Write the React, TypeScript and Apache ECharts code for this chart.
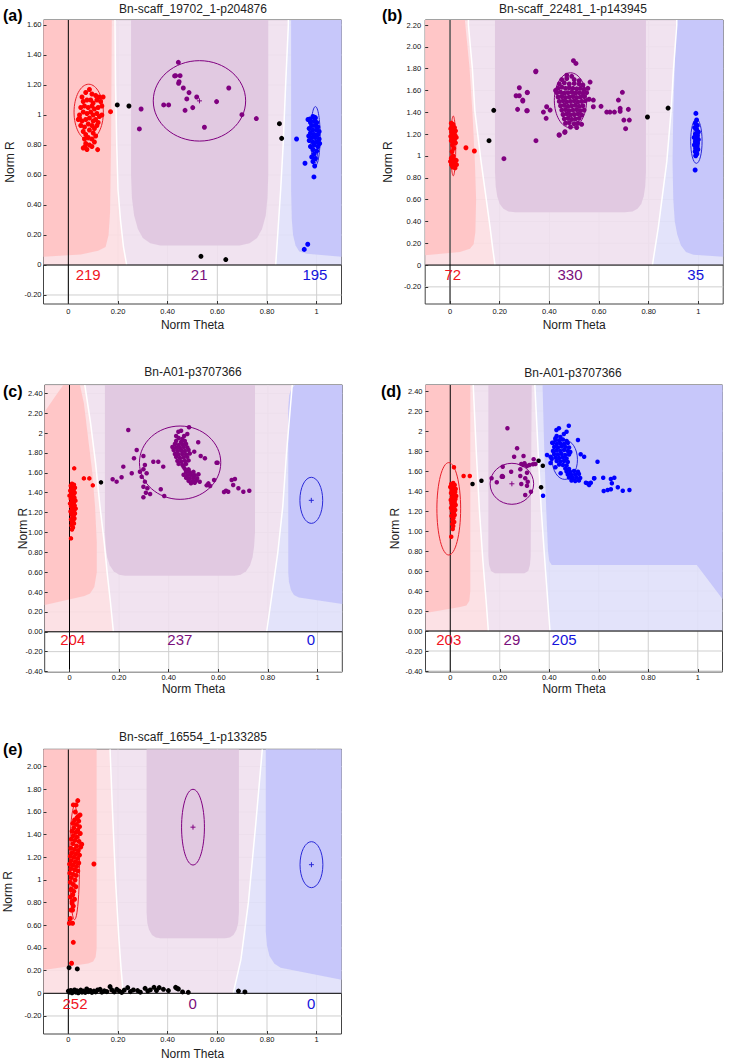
import React, { useEffect, useRef } from "react";
import * as echarts from "echarts";

const FONT = "Liberation Sans, Arial, Helvetica, sans-serif";

// ---------- tick labels ----------
const X_TICKS = [0, 0.2, 0.4, 0.6, 0.8, 1];
const Y_TICKS_A = [-0.2, 0, 0.2, 0.4, 0.6, 0.8, 1, 1.2, 1.4, 1.6];
const Y_TICKS_B = [-0.2, 0, 0.2, 0.4, 0.6, 0.8, 1, 1.2, 1.4, 1.6, 1.8, 2.0, 2.2];
const Y_TICKS_C = [-0.4, -0.2, 0, 0.2, 0.4, 0.6, 0.8, 1, 1.2, 1.4, 1.6, 1.8, 2, 2.2, 2.4];
const Y_TICKS_D = [-0.4, -0.2, 0, 0.2, 0.4, 0.6, 0.8, 1, 1.2, 1.4, 1.6, 1.8, 2, 2.2, 2.4];
const Y_TICKS_E = [-0.2, 0, 0.2, 0.4, 0.6, 0.8, 1, 1.2, 1.4, 1.6, 1.8, 2.0];

const TITLES = [
  "Bn-scaff_19702_1-p204876",
  "Bn-scaff_22481_1-p143945",
  "Bn-A01-p3707366",
  "Bn-A01-p3707366",
  "Bn-scaff_16554_1-p133285",
];
const PANEL_LABELS = ["(a)", "(b)", "(c)", "(d)", "(e)"];

// ---------- genotype counts (AA, AB, BB) and their theta positions ----------
const COUNTS_A = [219, 21, 195];
const COUNTS_B = [72, 330, 35];
const COUNTS_C = [204, 237, 0];
const COUNTS_D = [203, 29, 205];
const COUNTS_E = [252, 0, 0];
const COUNT_THETA_A = [0.08, 0.527, 0.993];
const COUNT_THETA_B = [0.011, 0.483, 0.989];
const COUNT_THETA_C = [0.013, 0.445, 0.973];
const COUNT_THETA_D = [-0.006, 0.249, 0.46];
const COUNT_THETA_E = [0.027, 0.501, 0.978];

// ---------- cluster ellipses [theta, R, halfTheta, halfR, cross, colour] ----------
const ELL_A = [[0.082, 1.019, 0.059, 0.186, 0, 0], [0.528, 1.094, 0.186, 0.268, 1, 1], [0.995, 0.859, 0.019, 0.197, 0, 2], [0.995, 0.83, 0.01, 0.15, 0, 2]];
const ELL_B = [[0.013, 1.092, 0.01, 0.274, 0, 0], [0.485, 1.51, 0.065, 0.252, 0, 1], [0.992, 1.135, 0.023, 0.203, 0, 2], [0.992, 1.135, 0.012, 0.15, 0, 2]];
const ELL_C = [[0.446, 1.702, 0.164, 0.369, 0, 1], [0.975, 1.323, 0.046, 0.232, 1, 2]];
const ELL_D = [[-0.006, 1.222, 0.048, 0.462, 0, 0], [0.249, 1.472, 0.088, 0.205, 1, 1], [0.463, 1.713, 0.051, 0.197, 0, 2]];
const ELL_E = [[0.025, 1.15, 0.02, 0.5, 0, 0], [0.502, 1.466, 0.046, 0.334, 1, 1], [0.979, 1.135, 0.046, 0.203, 1, 2]];

// ---------- samples (Norm Theta, Norm R) ----------
const A_RED = [[0.055,1.12],[0.07,1.15],[0.085,1.17],[0.095,1.14],[0.11,1.13],[0.125,1.12],[0.06,1.09],[0.075,1.1],[0.09,1.1],[0.1,1.08],[0.115,1.1],[0.13,1.09],[0.05,1.05],[0.065,1.06],[0.08,1.05],[0.095,1.06],[0.105,1.04],[0.12,1.05],[0.135,1.06],[0.045,1.0],[0.06,1.02],[0.075,1.01],[0.09,1.02],[0.1,1.0],[0.115,1.01],[0.125,0.99],[0.04,0.97],[0.055,0.96],[0.07,0.97],[0.085,0.98],[0.1,0.96],[0.11,0.97],[0.12,0.95],[0.05,0.93],[0.065,0.92],[0.08,0.94],[0.095,0.93],[0.105,0.91],[0.115,0.93],[0.06,0.89],[0.07,0.87],[0.085,0.9],[0.1,0.88],[0.11,0.86],[0.065,0.84],[0.08,0.85],[0.095,0.84],[0.105,0.82],[0.07,0.81],[0.085,0.8],[0.06,0.78],[0.075,0.77],[0.095,0.79],[0.118,0.769],[0.17,1.022],[0.14,1.12],[0.045,0.98],[0.067,0.789],[0.135,1.0]];
const A_PURPLE = [[0.443,1.351],[0.432,1.262],[0.45,1.262],[0.446,1.222],[0.444,1.211],[0.463,1.18],[0.486,1.149],[0.477,1.107],[0.517,1.12],[0.501,1.049],[0.47,1.031],[0.384,1.067],[0.404,1.067],[0.293,1.04],[0.286,0.907],[0.548,0.918],[0.597,1.089],[0.646,1.18],[0.699,1.002],[0.757,0.976],[0.428,1.26]];
const A_BLUE = [[0.985,0.99],[0.995,0.98],[0.99,0.96],[1.0,0.95],[0.975,0.95],[0.98,0.93],[0.995,0.93],[1.005,0.92],[0.97,0.91],[0.985,0.9],[1.0,0.9],[1.01,0.89],[0.975,0.88],[0.99,0.87],[1.005,0.87],[0.98,0.85],[0.995,0.85],[1.01,0.84],[0.97,0.83],[0.985,0.82],[1.0,0.82],[0.99,0.8],[1.005,0.79],[0.975,0.79],[0.985,0.77],[1.0,0.76],[0.99,0.74],[0.98,0.72],[0.995,0.71],[0.985,0.69],[0.992,0.66],[0.965,0.97],[0.973,0.973],[0.993,0.984],[0.919,0.84],[0.953,0.678],[0.989,0.587],[0.95,0.104],[0.964,0.138],[1.012,0.81],[0.968,0.86]];
const A_BLACK = [[0.197,1.067],[0.244,1.06],[0.85,0.942],[0.859,0.844],[0.534,0.058],[0.634,0.036]];

const B_RED = [[0.005,1.3],[0.012,1.29],[0.008,1.27],[0.018,1.26],[0.003,1.25],[0.012,1.24],[0.022,1.23],[0.006,1.22],[0.015,1.21],[0.01,1.2],[0.02,1.19],[0.003,1.18],[0.013,1.17],[0.025,1.17],[0.008,1.16],[0.018,1.15],[0.005,1.14],[0.013,1.13],[0.022,1.12],[0.01,1.1],[0.015,1.07],[0.008,1.04],[0.012,1.0],[0.005,0.98],[0.015,0.97],[0.025,0.96],[0.002,0.95],[0.01,0.94],[0.02,0.93],[0.006,0.92],[0.016,0.91],[0.026,0.92],[0.01,0.9],[0.02,0.89],[0.064,1.075],[0.098,1.045]];
const B_PURPLE = [[0.47,1.74],[0.49,1.73],[0.45,1.7],[0.47,1.71],[0.5,1.7],[0.52,1.69],[0.44,1.66],[0.46,1.67],[0.48,1.66],[0.5,1.665],[0.52,1.66],[0.535,1.65],[0.435,1.62],[0.45,1.63],[0.465,1.62],[0.48,1.625],[0.495,1.62],[0.51,1.615],[0.525,1.62],[0.54,1.61],[0.43,1.58],[0.445,1.585],[0.46,1.575],[0.475,1.58],[0.49,1.585],[0.505,1.575],[0.52,1.58],[0.535,1.575],[0.55,1.58],[0.435,1.54],[0.45,1.545],[0.465,1.535],[0.48,1.54],[0.495,1.545],[0.51,1.535],[0.525,1.54],[0.54,1.545],[0.44,1.5],[0.455,1.505],[0.47,1.495],[0.485,1.5],[0.5,1.505],[0.515,1.495],[0.53,1.5],[0.545,1.505],[0.445,1.46],[0.46,1.465],[0.475,1.455],[0.49,1.46],[0.505,1.465],[0.52,1.455],[0.535,1.46],[0.45,1.42],[0.465,1.425],[0.48,1.415],[0.495,1.42],[0.51,1.425],[0.525,1.415],[0.54,1.42],[0.455,1.38],[0.47,1.385],[0.485,1.375],[0.5,1.38],[0.515,1.385],[0.53,1.375],[0.46,1.34],[0.475,1.345],[0.49,1.335],[0.505,1.34],[0.52,1.345],[0.465,1.3],[0.48,1.305],[0.5,1.295],[0.515,1.3],[0.53,1.29],[0.485,1.265],[0.51,1.26],[0.497,1.873],[0.507,1.848],[0.346,1.778],[0.279,1.625],[0.266,1.552],[0.279,1.552],[0.293,1.512],[0.311,1.583],[0.272,1.427],[0.311,1.415],[0.376,1.402],[0.389,1.451],[0.403,1.42],[0.387,1.345],[0.346,1.14],[0.217,0.975],[0.439,1.192],[0.462,1.216],[0.463,1.222],[0.44,1.192],[0.564,1.677],[0.577,1.512],[0.577,1.451],[0.608,1.455],[0.631,1.402],[0.644,1.402],[0.662,1.402],[0.678,1.512],[0.694,1.583],[0.685,1.436],[0.685,1.41],[0.718,1.427],[0.7,1.329],[0.722,1.329],[0.707,1.25],[0.345,1.772],[0.311,1.58],[0.293,1.503],[0.309,1.414],[0.56,1.52],[0.555,1.62],[0.425,1.6]];
const B_BLUE = [[0.99,1.39],[0.993,1.33],[0.988,1.3],[0.996,1.28],[0.985,1.26],[0.993,1.24],[1.0,1.22],[0.988,1.2],[0.996,1.19],[0.983,1.17],[0.992,1.16],[1.0,1.15],[0.988,1.13],[0.996,1.12],[0.984,1.1],[0.993,1.09],[0.99,1.07],[0.998,1.06],[0.987,1.04],[0.994,1.02],[0.989,1.002],[0.987,0.871],[0.995,1.11]];
const B_BLACK = [[0.176,1.418],[0.157,1.14],[0.795,1.357],[0.878,1.439]];

const C_RED = [[0.01,1.49],[0.018,1.48],[0.005,1.47],[0.014,1.46],[0.022,1.45],[0.008,1.44],[0.017,1.43],[0.003,1.42],[0.012,1.41],[0.021,1.4],[0.007,1.39],[0.016,1.38],[0.0,1.37],[0.011,1.36],[0.02,1.35],[0.005,1.34],[0.015,1.33],[0.024,1.32],[0.009,1.31],[0.018,1.3],[0.002,1.29],[0.012,1.28],[0.021,1.27],[0.006,1.26],[0.016,1.25],[0.025,1.24],[0.01,1.23],[0.019,1.22],[0.004,1.21],[0.014,1.2],[0.022,1.19],[0.008,1.18],[0.017,1.17],[0.012,1.15],[0.02,1.14],[0.006,1.13],[0.015,1.12],[0.01,1.1],[0.018,1.09],[0.008,1.07],[0.014,1.05],[0.01,1.03],[0.019,1.645],[0.058,1.544],[0.08,1.544],[0.094,1.474],[0.006,0.94]];
const C_PURPLE = [[0.44,1.95],[0.455,1.94],[0.43,1.92],[0.45,1.91],[0.465,1.92],[0.425,1.89],[0.44,1.88],[0.455,1.885],[0.47,1.89],[0.415,1.86],[0.43,1.855],[0.445,1.85],[0.46,1.86],[0.475,1.855],[0.42,1.83],[0.435,1.82],[0.45,1.825],[0.465,1.82],[0.48,1.83],[0.425,1.79],[0.44,1.785],[0.455,1.79],[0.47,1.785],[0.485,1.795],[0.43,1.76],[0.445,1.75],[0.46,1.755],[0.475,1.76],[0.435,1.72],[0.45,1.715],[0.465,1.72],[0.48,1.725],[0.44,1.69],[0.455,1.68],[0.47,1.69],[0.46,1.66],[0.465,1.64],[0.48,1.635],[0.47,1.61],[0.485,1.605],[0.5,1.61],[0.46,1.58],[0.475,1.575],[0.49,1.58],[0.505,1.575],[0.52,1.585],[0.47,1.55],[0.485,1.545],[0.5,1.55],[0.515,1.545],[0.48,1.52],[0.495,1.515],[0.51,1.52],[0.525,1.51],[0.49,1.495],[0.505,1.5],[0.237,2.031],[0.482,2.058],[0.439,2.014],[0.45,2.024],[0.43,1.971],[0.462,1.971],[0.475,1.991],[0.519,1.907],[0.271,1.83],[0.26,1.746],[0.298,1.769],[0.503,1.813],[0.529,1.769],[0.546,1.746],[0.593,1.702],[0.338,1.712],[0.358,1.712],[0.378,1.662],[0.304,1.679],[0.298,1.636],[0.284,1.611],[0.311,1.595],[0.217,1.662],[0.251,1.595],[0.291,1.561],[0.19,1.511],[0.174,1.535],[0.21,1.555],[0.304,1.511],[0.298,1.46],[0.314,1.444],[0.308,1.4],[0.325,1.387],[0.368,1.434],[0.382,1.367],[0.298,1.354],[0.56,1.494],[0.567,1.467],[0.553,1.474],[0.583,1.528],[0.631,1.42],[0.64,1.41],[0.654,1.528],[0.667,1.538],[0.66,1.477],[0.681,1.444],[0.701,1.41],[0.725,1.42],[0.597,1.702],[0.623,1.407]];
const C_BLUE: number[][] = [];
const C_BLACK = [[0.127,1.504]];

const D_RED = [[0.012,1.48],[0.004,1.47],[0.018,1.46],[0.009,1.45],[0.0,1.44],[0.015,1.43],[0.022,1.42],[0.006,1.41],[0.013,1.4],[0.02,1.39],[0.003,1.38],[0.01,1.37],[0.017,1.36],[0.024,1.35],[0.007,1.34],[0.014,1.33],[0.021,1.32],[0.002,1.31],[0.011,1.3],[0.018,1.29],[0.005,1.28],[0.014,1.27],[0.022,1.26],[0.008,1.25],[0.016,1.24],[0.003,1.23],[0.012,1.22],[0.02,1.21],[0.007,1.2],[0.015,1.19],[0.01,1.17],[0.018,1.16],[0.005,1.15],[0.013,1.13],[0.009,1.11],[0.016,1.09],[0.008,1.07],[0.012,1.05],[0.015,1.637],[0.054,1.55],[0.079,1.55],[0.004,0.943],[0.01,1.02]];
const D_PURPLE = [[0.231,2.027],[0.27,1.827],[0.258,1.743],[0.296,1.75],[0.212,1.643],[0.208,1.543],[0.213,1.543],[0.246,1.593],[0.283,1.617],[0.287,1.67],[0.3,1.677],[0.31,1.65],[0.337,1.717],[0.344,1.67],[0.334,1.667],[0.31,1.583],[0.303,1.527],[0.313,1.493],[0.287,1.47],[0.31,1.453],[0.303,1.36],[0.326,1.393],[0.167,1.527],[0.188,1.487],[0.21,1.55],[0.283,1.55],[0.32,1.66],[0.295,1.66]];
const D_BLUE = [[0.43,1.95],[0.445,1.94],[0.425,1.91],[0.44,1.905],[0.455,1.915],[0.47,1.9],[0.415,1.88],[0.43,1.87],[0.445,1.875],[0.46,1.87],[0.475,1.88],[0.42,1.84],[0.435,1.835],[0.45,1.845],[0.465,1.84],[0.48,1.835],[0.415,1.8],[0.43,1.805],[0.445,1.8],[0.46,1.81],[0.475,1.8],[0.485,1.79],[0.42,1.77],[0.435,1.765],[0.45,1.77],[0.465,1.76],[0.48,1.765],[0.425,1.735],[0.44,1.73],[0.455,1.735],[0.47,1.725],[0.43,1.7],[0.445,1.695],[0.46,1.7],[0.475,1.69],[0.44,1.665],[0.455,1.66],[0.47,1.655],[0.41,1.72],[0.405,1.68],[0.465,1.625],[0.48,1.62],[0.47,1.595],[0.485,1.59],[0.5,1.6],[0.475,1.565],[0.49,1.56],[0.505,1.565],[0.52,1.57],[0.48,1.535],[0.495,1.53],[0.51,1.535],[0.525,1.53],[0.49,1.505],[0.505,1.5],[0.52,1.505],[0.479,2.053],[0.439,2.027],[0.429,2.01],[0.47,1.993],[0.459,1.97],[0.425,1.927],[0.412,1.883],[0.516,1.91],[0.391,1.76],[0.405,1.743],[0.527,1.767],[0.541,1.743],[0.595,1.693],[0.446,1.577],[0.425,1.637],[0.516,1.593],[0.581,1.527],[0.554,1.477],[0.568,1.483],[0.561,1.46],[0.649,1.52],[0.663,1.533],[0.653,1.477],[0.677,1.437],[0.636,1.41],[0.649,1.417],[0.724,1.41],[0.618,1.533],[0.697,1.403],[0.62,1.4],[0.548,1.483],[0.582,1.527],[0.375,1.353]];
const D_BLACK = [[0.09,1.47],[0.126,1.503],[0.357,1.703],[0.374,1.653],[0.367,1.437]];

const E_RED = [[0.038,1.7],[0.02,1.662],[0.031,1.662],[0.047,1.574],[0.04,1.559],[0.028,1.6],[0.035,1.55],[0.025,1.53],[0.042,1.52],[0.018,1.5],[0.032,1.49],[0.045,1.47],[0.022,1.46],[0.038,1.44],[0.015,1.43],[0.03,1.42],[0.048,1.41],[0.02,1.39],[0.035,1.38],[0.012,1.36],[0.027,1.35],[0.043,1.34],[0.054,1.315],[0.018,1.32],[0.033,1.3],[0.05,1.29],[0.01,1.28],[0.025,1.27],[0.04,1.26],[0.015,1.24],[0.03,1.23],[0.045,1.22],[0.008,1.21],[0.022,1.2],[0.037,1.19],[0.012,1.17],[0.028,1.16],[0.042,1.15],[0.005,1.14],[0.018,1.13],[0.033,1.12],[0.01,1.1],[0.025,1.09],[0.038,1.08],[0.006,1.06],[0.02,1.05],[0.032,1.04],[0.012,1.02],[0.027,1.0],[0.008,0.98],[0.02,0.96],[0.03,0.94],[0.012,0.92],[0.022,0.9],[0.011,0.912],[0.018,0.87],[0.008,0.85],[0.025,0.83],[0.015,0.81],[0.015,0.794],[0.02,0.77],[0.011,0.735],[0.017,0.735],[0.004,0.618],[0.017,0.618],[0.008,0.66],[0.02,0.45],[0.013,0.265],[0.103,1.141]];
const E_PURPLE: number[][] = [];
const E_BLUE: number[][] = [];
const E_BLACK = [[0.003,0.226],[0.036,0.215],[0.0,0.02],[0.005,0.01],[0.01,0.025],[0.015,0.005],[0.02,0.018],[0.025,0.03],[0.03,0.01],[0.035,0.022],[0.04,0.005],[0.045,0.015],[0.05,0.028],[0.055,0.01],[0.06,0.02],[0.068,0.008],[0.074,0.038],[0.08,0.015],[0.088,0.025],[0.095,0.008],[0.103,0.02],[0.11,0.012],[0.118,0.03],[0.128,0.035],[0.135,0.01],[0.145,0.022],[0.155,0.015],[0.168,0.059],[0.175,0.03],[0.185,0.012],[0.195,0.035],[0.205,0.02],[0.215,0.008],[0.225,0.028],[0.239,0.05],[0.25,0.015],[0.262,0.03],[0.279,0.024],[0.29,0.01],[0.309,0.044],[0.32,0.02],[0.33,0.03],[0.345,0.053],[0.355,0.025],[0.366,0.05],[0.383,0.035],[0.403,0.024],[0.432,0.053],[0.437,0.045],[0.443,0.038],[0.46,0.012],[0.483,0.009],[0.685,0.02],[0.711,0.012]];

// ---------- call-region boundaries (theta, R) ----------
const A_B1 = [[0.188,3],[0.188,1.6],[0.19,1.2],[0.195,0.8],[0.2,0.5],[0.21,0.3],[0.222,0.12],[0.235,0]];
const A_B2 = [[0.886,3],[0.886,1.6],[0.875,1.2],[0.865,0.8],[0.855,0.5],[0.845,0.25],[0.835,0]];
const A_DPINK = [[-0.2,3],[0.175,3],[0.175,1.6],[0.172,0.8],[0.168,0.35],[0.162,0.2],[0.15,0.12],[0.12,0.095],[0.05,0.07],[-0.2,0.055]];
const A_DPURPLE = [[0.2525,3],[0.2525,0.6],[0.256,0.45],[0.265,0.33],[0.28,0.24],[0.3,0.18],[0.33,0.145],[0.37,0.13],[0.69,0.13],[0.73,0.145],[0.76,0.18],[0.78,0.24],[0.795,0.33],[0.802,0.45],[0.805,0.6],[0.805,3]];
const A_DBLUE = [[0.897,3],[0.897,0.5],[0.9,0.3],[0.905,0.2],[0.915,0.13],[0.93,0.09],[0.96,0.075],[1.2,0.055],[1.2,3]];

const B_B1 = [[0.074,3],[0.074,2.2],[0.09,1.8],[0.1,1.41],[0.125,0.95],[0.14,0.7],[0.161,0.35],[0.172,0.15],[0.181,0]];
const B_B2 = [[0.913,3],[0.913,2.2],[0.9,1.8],[0.89,1.41],[0.873,0.95],[0.839,0.35],[0.815,0]];
const B_DPINK = [[-0.2,3],[0.06,3],[0.06,2.24],[0.078,1.82],[0.09,1.41],[0.1,0.95],[0.105,0.6],[0.102,0.3],[0.095,0.19],[0.08,0.15],[0.04,0.12],[-0.2,0.09]];
const B_DPURPLE = [[0.181,3],[0.181,0.85],[0.184,0.72],[0.19,0.63],[0.2,0.56],[0.215,0.515],[0.235,0.49],[0.262,0.483],[0.705,0.483],[0.735,0.49],[0.755,0.515],[0.77,0.56],[0.78,0.63],[0.786,0.72],[0.789,0.85],[0.789,3]];
const B_DBLUE = [[0.91,3],[0.91,2.2],[0.899,1.41],[0.896,0.95],[0.899,0.6],[0.905,0.4],[0.915,0.28],[0.93,0.18],[0.95,0.12],[0.98,0.095],[1.2,0.076],[1.2,3]];

const C_B1 = [[0.062,3],[0.062,2.48],[0.085,2.1],[0.105,1.7],[0.123,1.26],[0.14,0.9],[0.152,0.59],[0.165,0.3],[0.177,0]];
const C_B2 = [[0.898,3],[0.898,2.48],[0.875,1.8],[0.86,1.26],[0.84,0.8],[0.815,0.35],[0.795,0]];
const C_DPINK = [[-0.2,2.215],[-0.1,2.215],[-0.06,2.36],[-0.025,2.49],[-0.025,3],[0.042,3],[0.042,2.49],[0.058,2.3],[0.076,1.93],[0.092,1.6],[0.103,1.26],[0.11,0.9],[0.11,0.6],[0.1,0.45],[0.083,0.386],[0.06,0.36],[-0.2,0.27]];
const C_DPURPLE = [[0.143,3],[0.143,1.0],[0.146,0.85],[0.152,0.75],[0.162,0.67],[0.178,0.61],[0.2,0.575],[0.225,0.564],[0.665,0.564],[0.69,0.575],[0.712,0.61],[0.728,0.67],[0.738,0.75],[0.744,0.85],[0.748,1.0],[0.748,3]];
const C_DBLUE = [[0.91,3],[0.91,2.5],[0.895,2.45],[0.886,2.38],[0.882,2.25],[0.882,0.6],[0.885,0.5],[0.893,0.42],[0.905,0.37],[0.925,0.345],[1.2,0.28],[1.2,3]];

const D_B1 = [[0.093,3],[0.093,2.45],[0.105,1.8],[0.118,1.2],[0.132,0.7],[0.145,0.3],[0.154,0]];
const D_B2 = [[0.342,3],[0.342,2.45],[0.355,1.8],[0.368,1.2],[0.385,0.6],[0.403,0]];
const D_DPINK = [[-0.2,3],[0.081,3],[0.081,0.4],[0.077,0.3],[0.065,0.255],[0.04,0.24],[-0.2,0.18]];
const D_DPURPLE = [[0.154,3],[0.154,0.75],[0.157,0.66],[0.165,0.6],[0.18,0.578],[0.3,0.578],[0.315,0.6],[0.322,0.66],[0.325,0.75],[0.329,3]];
const D_DBLUE = [[0.373,3],[0.373,2.45],[0.38,1.8],[0.388,1.2],[0.395,0.8],[0.4,0.7],[0.41,0.66],[0.996,0.66],[1.2,0.32],[1.2,3]];

const E_B1 = [[0.168,3],[0.168,2.15],[0.178,1.6],[0.19,1.0],[0.203,0.5],[0.213,0.2],[0.221,0]];
const E_B2 = [[0.781,3],[0.781,2.15],[0.755,1.5],[0.725,0.8],[0.695,0.3],[0.664,0]];
const E_DPINK = [[-0.2,3],[0.114,3],[0.114,0.4],[0.11,0.32],[0.1,0.28],[0.08,0.262],[-0.2,0.206]];
const E_DPURPLE = [[0.315,3],[0.315,0.72],[0.318,0.62],[0.325,0.56],[0.337,0.515],[0.352,0.492],[0.37,0.485],[0.632,0.485],[0.65,0.492],[0.665,0.515],[0.677,0.56],[0.684,0.62],[0.687,0.72],[0.687,3]];
const E_DBLUE = [[0.795,3],[0.795,0.55],[0.8,0.42],[0.81,0.33],[0.83,0.26],[0.855,0.225],[1.2,0.12],[1.2,3]];

// ---------- styles ----------
const C_LIGHT_PINK = "rgba(252,222,226,0.9)";
const C_DARK_PINK = "rgba(255,196,197,0.93)";
const C_LIGHT_PURPLE = "rgba(239,224,238,0.9)";
const C_DARK_PURPLE = "rgba(224,199,224,0.93)";
const C_LIGHT_BLUE = "rgba(224,224,250,0.9)";
const C_DARK_BLUE = "rgba(197,197,250,0.93)";
const PT_COLORS = { red: "#ff0000", purple: "#800080", blue: "#0000ff", black: "#000000" };
const ELL_COLORS = ["#e8202a", "#800080", "#2a2ad8"];
const COUNT_COLORS = ["#f0141e", "#7a0f7c", "#1414dc"];
const GRID_LINE = "#cfcfcf";

const PANELS = [
  { grid: [43.5, 20, 298, 284], y: [-0.26, 1.633], yTicks: Y_TICKS_A, whole: [0, 1], red: A_RED, purple: A_PURPLE, blue: A_BLUE, black: A_BLACK, ell: ELL_A, counts: COUNTS_A, ct: COUNT_THETA_A, reg: [A_B1, A_B2, A_DPINK, A_DPURPLE, A_DBLUE], sym: 5, cOff: 9.5, xm: 3, ym: 2, xg: 15, yg: 28, title: [193, 9], lab: [3, 15.5], zeroV: ["#000", 1] },
  { grid: [425.2, 20, 298, 284], y: [-0.357, 2.246], yTicks: Y_TICKS_B, whole: [0, 1], red: B_RED, purple: B_PURPLE, blue: B_BLUE, black: B_BLACK, ell: ELL_B, counts: COUNTS_B, ct: COUNT_THETA_B, reg: [B_B1, B_B2, B_DPINK, B_DPURPLE, B_DBLUE], sym: 5, cOff: 9, xm: 3, ym: 4, xg: 15, yg: 31, title: [573, 9], lab: [382, 15.5], zeroV: ["#555", 1.5] },
  { grid: [44.7, 385, 297.6, 287], y: [-0.405, 2.484], yTicks: Y_TICKS_C, whole: [2], red: C_RED, purple: C_PURPLE, blue: C_BLUE, black: C_BLACK, ell: ELL_C, counts: COUNTS_C, ct: COUNT_THETA_C, reg: [C_B1, C_B2, C_DPINK, C_DPURPLE, C_DBLUE], sym: 4.5, cOff: 7.5, xm: 1, ym: 2, xg: 11, yg: 16, title: [193, 371.5], lab: [3, 391.7], zeroV: ["#000", 1] },
  { grid: [425.5, 385, 297, 287], y: [-0.41, 2.46], yTicks: Y_TICKS_D, whole: [2], red: D_RED, purple: D_PURPLE, blue: D_BLUE, black: D_BLACK, ell: ELL_D, counts: COUNTS_D, ct: COUNT_THETA_D, reg: [D_B1, D_B2, D_DPINK, D_DPURPLE, D_DBLUE], sym: 4.5, cOff: 8, xm: 1, ym: 3, xg: 11, yg: 25, title: [573, 373], lab: [381, 391.7], zeroV: ["#000", 1] },
  { grid: [43.5, 749.3, 298, 284.7], y: [-0.359, 2.153], yTicks: Y_TICKS_E, whole: [0, 1], red: E_RED, purple: E_PURPLE, blue: E_BLUE, black: E_BLACK, ell: ELL_E, counts: COUNTS_E, ct: COUNT_THETA_E, reg: [E_B1, E_B2, E_DPINK, E_DPURPLE, E_DBLUE], sym: 5, cOff: 10, xm: 1.5, ym: 2, xg: 13.5, yg: 29.5, title: [193, 736.7], lab: [3, 749.3], zeroV: ["#000", 1] },
];

const X_RANGE = [-0.1, 1.1];

function fmt(v: number, whole: number[]) {
  for (const w of whole) if (Math.abs(v - w) < 1e-9) return String(w);
  return v.toFixed(2);
}
const clamp = (v: number, a: number, b: number) => Math.max(a, Math.min(b, v));

type Item = { pts: number[][]; fill?: string; stroke?: string; w?: number };

function regionItems(b1: number[][], b2: number[][], dp: number[][], dpu: number[][], db: number[][]): Item[] {
  const lightPink = [[-0.2, 0], [-0.2, 3], ...b1];
  const lightPurple = [...b1, ...b2.slice().reverse()];
  const lightBlue = [...b2, [1.2, 0], [1.2, 3]];
  return [
    { pts: lightPink, fill: C_LIGHT_PINK },
    { pts: lightPurple, fill: C_LIGHT_PURPLE },
    { pts: lightBlue, fill: C_LIGHT_BLUE },
    { pts: dp, fill: C_DARK_PINK },
    { pts: dpu, fill: C_DARK_PURPLE },
    { pts: db, fill: C_DARK_BLUE },
    { pts: b1, stroke: "#ffffff", w: 1.5 },
    { pts: b2, stroke: "#ffffff", w: 1.5 },
  ];
}

function shapeSeries(i: number, items: Item[], yr: number[], z: number) {
  return {
    type: "custom",
    xAxisIndex: i,
    yAxisIndex: i,
    z,
    silent: true,
    clip: true,
    data: items.map((_, k) => [0, 0, k]),
    encode: { x: 0, y: 1 },
    renderItem: (params: any, api: any) => {
      const it = items[params.dataIndex];
      const points = it.pts.map((p) => api.coord([clamp(p[0], X_RANGE[0], X_RANGE[1]), clamp(p[1], yr[0], yr[1])]));
      if (it.stroke) {
        return { type: "polyline", z2: params.dataIndex, shape: { points }, style: { stroke: it.stroke, lineWidth: it.w, fill: null } };
      }
      return { type: "polygon", z2: params.dataIndex, shape: { points }, style: { fill: it.fill } };
    },
  };
}

function ellipseSeries(i: number, ell: number[][]) {
  return {
    type: "custom",
    xAxisIndex: i,
    yAxisIndex: i,
    z: 4,
    silent: true,
    data: ell,
    encode: { x: 0, y: 1 },
    renderItem: (params: any, api: any) => {
      const c = api.coord([api.value(0), api.value(1)]);
      const s = api.size([api.value(2), api.value(3)]);
      const col = ELL_COLORS[api.value(5)];
      const children: any[] = [
        { type: "ellipse", shape: { cx: c[0], cy: c[1], rx: s[0], ry: s[1] }, style: { fill: null, stroke: col, lineWidth: 1 } },
      ];
      if (api.value(4)) {
        children.push({ type: "line", shape: { x1: c[0] - 2.5, y1: c[1], x2: c[0] + 2.5, y2: c[1] }, style: { stroke: col, lineWidth: 1 } });
        children.push({ type: "line", shape: { x1: c[0], y1: c[1] - 2.5, x2: c[0], y2: c[1] + 2.5 }, style: { stroke: col, lineWidth: 1 } });
      }
      return { type: "group", children };
    },
  };
}

function buildOption() {
  const grid: any[] = [];
  const xAxis: any[] = [];
  const yAxis: any[] = [];
  const series: any[] = [];
  const graphic: any[] = [];

  PANELS.forEach((p, i) => {
    grid.push({ left: p.grid[0], top: p.grid[1], width: p.grid[2], height: p.grid[3], show: true, borderColor: "#444", borderWidth: 1, backgroundColor: "#fff", z: 0 });
    xAxis.push({
      gridIndex: i, type: "value", min: X_RANGE[0], max: X_RANGE[1], z: 8,
      axisLine: { show: false, onZero: false },
      axisTick: { show: true, inside: true, length: 3, customValues: X_TICKS, lineStyle: { color: "#333" } },
      axisLabel: { customValues: X_TICKS, formatter: (v: number) => fmt(v, [0, 1]), fontSize: 7.5, color: "#111", margin: p.xm, fontFamily: FONT },
      splitLine: { show: false },
      name: "Norm Theta", nameLocation: "middle", nameGap: p.xg, nameMoveOverlap: false,
      nameTextStyle: { fontSize: 12, color: "#222", fontFamily: FONT },
    });
    yAxis.push({
      gridIndex: i, type: "value", min: p.y[0], max: p.y[1], z: 8,
      axisLine: { show: false, onZero: false },
      axisTick: { show: true, inside: true, length: 3, customValues: p.yTicks, lineStyle: { color: "#333" } },
      axisLabel: { customValues: p.yTicks, formatter: (v: number) => fmt(v, p.whole), fontSize: 7.5, color: "#111", margin: p.ym, fontFamily: FONT },
      splitLine: { show: false },
      name: "Norm R", nameLocation: "middle", nameRotate: 90, nameGap: p.yg, nameMoveOverlap: false,
      nameTextStyle: { fontSize: 12, color: "#222", fontFamily: FONT },
    });

    // grid lines from the ticks (drawn beneath the translucent call regions)
    const gl: Item[] = [];
    X_TICKS.forEach((v) => gl.push({ pts: [[v, p.y[0]], [v, p.y[1]]], stroke: GRID_LINE, w: 1 }));
    p.yTicks.forEach((v) => gl.push({ pts: [[X_RANGE[0], v], [X_RANGE[1], v]], stroke: GRID_LINE, w: 1 }));
    series.push(shapeSeries(i, gl, p.y, 1));

    // shaded call regions
    series.push(shapeSeries(i, regionItems(p.reg[0], p.reg[1], p.reg[2], p.reg[3], p.reg[4]), p.y, 2));

    // theta = 0 and R = 0 lines
    const zl: Item[] = [
      { pts: [[0, p.y[0]], [0, p.y[1]]], stroke: p.zeroV[0] as string, w: p.zeroV[1] as number },
      { pts: [[X_RANGE[0], 0], [X_RANGE[1], 0]], stroke: "#000", w: 1 },
    ];
    series.push(shapeSeries(i, zl, p.y, 3));

    series.push(ellipseSeries(i, p.ell));

    const groups: [string, number[][]][] = [["red", p.red], ["purple", p.purple], ["blue", p.blue], ["black", p.black]];
    groups.forEach(([name, data]) => {
      if (!data.length) return;
      series.push({
        type: "scatter", xAxisIndex: i, yAxisIndex: i, z: 5, silent: true,
        symbolSize: p.sym, data, itemStyle: { color: (PT_COLORS as any)[name], opacity: 1 },
      });
    });

    series.push({
      type: "scatter", xAxisIndex: i, yAxisIndex: i, z: 6, silent: true, symbolSize: 0,
      itemStyle: { color: "#ffffff" },
      data: p.counts.map((c, k) => ({
        value: [p.ct[k], 0, c],
        label: { color: COUNT_COLORS[k] },
      })),
      label: {
        show: true, position: "inside", offset: [0, p.cOff], opacity: 1, textBorderWidth: 0,
        formatter: (d: any) => String(d.value[2]), fontSize: 15, fontFamily: FONT,
      },
    });

    graphic.push({
      type: "text", x: p.title[0], y: p.title[1], silent: true,
      style: { text: TITLES[i], align: "center", verticalAlign: "middle", fontSize: 12, fontFamily: FONT, fill: "#222" },
    });
    graphic.push({
      type: "text", x: p.lab[0], y: p.lab[1], silent: true,
      style: { text: PANEL_LABELS[i], align: "left", verticalAlign: "middle", fontSize: 16, fontWeight: "bold", fontFamily: FONT, fill: "#000" },
    });
  });

  return {
    animation: false,
    backgroundColor: "#ffffff",
    textStyle: { fontFamily: FONT },
    grid, xAxis, yAxis, series, graphic,
  };
}

export default function App() {
  const ref = useRef<HTMLDivElement>(null);
  useEffect(() => {
    if (!ref.current) return;
    const chart = echarts.init(ref.current, undefined, { renderer: "svg" });
    chart.setOption(buildOption() as any);
    return () => chart.dispose();
  }, []);
  return <div ref={ref} style={{ position: "absolute", left: 0, top: 0, width: 729, height: 1062 }} />;
}
